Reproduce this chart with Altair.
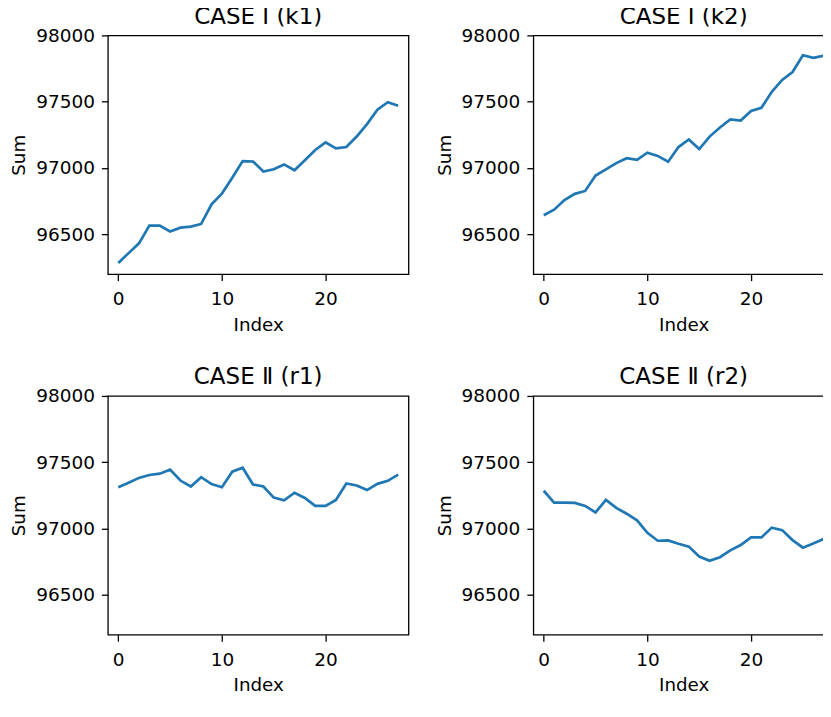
import altair as alt
import pandas as pd

index = list(range(28))

k1 = [96284, 96358, 96432, 96565, 96565, 96521, 96550, 96558, 96578, 96726,
      96807, 96926, 97052, 97049, 96973, 96990, 97027, 96983, 97059, 97136,
      97193, 97148, 97158, 97237, 97331, 97440, 97496, 97469]
k2 = [96644, 96686, 96758, 96805, 96827, 96943, 96990, 97037, 97074, 97062,
      97116, 97091, 97047, 97158, 97215, 97143, 97237, 97306, 97366, 97358,
      97430, 97454, 97575, 97664, 97724, 97850, 97830, 97847]
r1 = [97312, 97345, 97382, 97404, 97414, 97444, 97362, 97317, 97387, 97335,
      97312, 97429, 97459, 97332, 97317, 97233, 97213, 97270, 97231, 97171,
      97171, 97216, 97340, 97325, 97290, 97337, 97360, 97407]
r2 = [97285, 97196, 97196, 97193, 97171, 97122, 97216, 97156, 97112, 97062,
      96968, 96908, 96911, 96886, 96864, 96789, 96757, 96784, 96836, 96876,
      96933, 96933, 97007, 96988, 96913, 96856, 96888, 96921]

titles = ["CASE \u2160 (k1)", "CASE \u2160 (k2)", "CASE \u2161 (r1)", "CASE \u2161 (r2)"]
y_ticks = [96500, 97000, 97500, 98000]
x_ticks = [0, 10, 20]

FONT = "DejaVu Sans"


def panel(values, title):
    df = pd.DataFrame({"Index": index, "Sum": values})
    return (
        alt.Chart(df)
        .mark_line(color="#1f77b4", strokeWidth=2.7)
        .encode(
            x=alt.X("Index:Q",
                    scale=alt.Scale(domain=[-1, 28], nice=False, zero=False),
                    axis=alt.Axis(values=x_ticks, labelPadding=9, titlePadding=8)),
            y=alt.Y("Sum:Q",
                    scale=alt.Scale(domain=[96200, 98000], nice=False, zero=False),
                    axis=alt.Axis(values=y_ticks, format="d", labelPadding=7, titlePadding=7)),
        )
        .properties(
            width=301, height=239,
            title=alt.TitleParams(title, fontSize=23, font=FONT, fontWeight="normal",
                                  anchor="middle", offset=-2.5, color="black"),
        )
    )


chart = (
    alt.concat(
        panel(k1, titles[0]), panel(k2, titles[1]),
        panel(r1, titles[2]), panel(r2, titles[3]),
        columns=2, spacing={"row": 122, "column": 125}, bounds="flush",
    )
    .properties(padding={"left": 0, "top": -4, "right": -12, "bottom": -3})
    .configure_view(stroke="black", strokeWidth=1.3)
    .configure_axis(
        domain=False, grid=False, tickColor="black", tickWidth=1.3, tickSize=6.5,
        labelFontSize=18.5, titleFontSize=18.3, labelFont=FONT, titleFont=FONT,
        labelColor="black", titleColor="black", titleFontWeight="normal",
    )
    .configure_title(font=FONT, fontSize=23, fontWeight="normal", color="black")
)

chart.save("out.html", embed_options={"renderer": "svg", "actions": False})
